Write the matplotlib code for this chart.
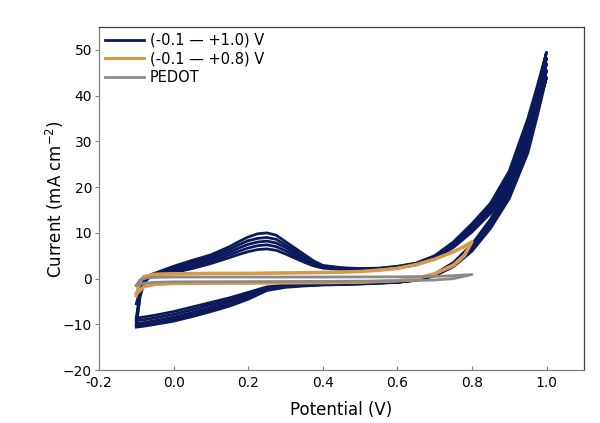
import numpy as np
import matplotlib.pyplot as plt

# forward scan (-0.1 -> 1.0 V) and reverse scan (1.0 -> -0.1 V), five cycles
x_fwd = [-0.1, -0.09, -0.08, -0.06, -0.04, 0.0, 0.05, 0.1, 0.15, 0.175, 0.2, 0.225, 0.25,
         0.275, 0.3, 0.325, 0.35, 0.375, 0.4, 0.45, 0.5, 0.55, 0.6, 0.65, 0.7, 0.75, 0.8,
         0.85, 0.9, 0.95, 0.975, 1.0]
x_rev = [1.0, 0.975, 0.95, 0.9, 0.85, 0.8, 0.75, 0.7, 0.65, 0.6, 0.5, 0.4, 0.35, 0.3,
         0.25, 0.2, 0.15, 0.1, 0.05, 0.0, -0.05, -0.08, -0.1]

fwd_cycles = [
    [-5.5, -2.5, -0.6, 0.5, 0.9, 1.3, 2.2, 3.3, 4.6, 5.3, 5.9, 6.35, 6.5, 6.2, 5.4, 4.5, 3.6, 2.8, 2.3,
     2.0, 1.9, 2.0, 2.3, 3.0, 4.3, 6.8, 10.2, 14.3, 20.5, 30.5, 37.0, 44.0],
    [-8.6, -3.0, -0.7, 0.6, 1.0, 1.6, 2.6, 3.8, 5.2, 6.0, 6.7, 7.2, 7.4, 7.0, 6.1, 5.0, 4.0, 3.1, 2.5,
     2.1, 2.0, 2.1, 2.4, 3.1, 4.5, 7.1, 10.6, 14.8, 21.2, 31.6, 38.3, 45.5],
    [-9.2, -3.3, -0.8, 0.7, 1.1, 2.0, 3.1, 4.3, 5.8, 6.7, 7.5, 8.0, 8.2, 7.8, 6.8, 5.6, 4.4, 3.4, 2.6,
     2.2, 2.1, 2.2, 2.5, 3.2, 4.7, 7.4, 11.1, 15.4, 22.0, 32.8, 39.6, 47.0],
    [-9.9, -3.6, -0.9, 0.8, 1.3, 2.4, 3.6, 4.8, 6.4, 7.4, 8.3, 8.8, 9.0, 8.6, 7.4, 6.1, 4.8, 3.6, 2.7,
     2.3, 2.1, 2.2, 2.6, 3.3, 4.9, 7.7, 11.5, 15.9, 22.7, 33.9, 40.8, 48.2],
    [-10.3, -4.0, -1.0, 0.9, 1.5, 2.7, 4.0, 5.2, 7.0, 8.1, 9.1, 9.8, 10.0, 9.5, 8.1, 6.7, 5.3, 3.9, 2.9,
     2.4, 2.2, 2.3, 2.7, 3.4, 5.0, 8.0, 12.0, 16.5, 23.5, 35.0, 42.0, 49.5],
]
rev_cycles = [
    [44.0, 35.5, 27.5, 17.5, 11.0, 6.0, 2.6, 0.6, -0.4, -0.8, -1.0, -1.1, -1.2, -1.4, -1.8, -3.0, -4.2, -5.2, -6.2, -7.2, -8.0, -8.4, -8.6],
    [45.5, 36.9, 28.7, 18.2, 11.5, 6.4, 2.8, 0.7, -0.3, -0.8, -1.0, -1.2, -1.3, -1.5, -2.0, -3.4, -4.7, -5.7, -6.8, -7.8, -8.6, -9.0, -9.2],
    [47.0, 38.2, 29.8, 19.0, 12.0, 6.8, 3.1, 0.8, -0.3, -0.8, -1.1, -1.3, -1.4, -1.6, -2.2, -3.8, -5.1, -6.3, -7.4, -8.4, -9.2, -9.6, -9.9],
    [48.2, 39.4, 30.9, 19.8, 12.5, 7.1, 3.3, 0.9, -0.2, -0.8, -1.1, -1.3, -1.5, -1.7, -2.4, -4.1, -5.6, -6.8, -7.9, -8.9, -9.7, -10.1, -10.3],
    [49.5, 40.7, 32.0, 20.7, 13.0, 7.5, 3.5, 1.0, -0.2, -0.8, -1.2, -1.4, -1.6, -1.9, -2.6, -4.5, -6.0, -7.2, -8.3, -9.3, -10.0, -10.4, -10.6],
]

# (-0.1 - +0.8) V window, two near-identical cycles
x_or_fwd = [-0.1, -0.09, -0.08, -0.05, 0.0, 0.1, 0.2, 0.3, 0.4, 0.5, 0.55, 0.6, 0.65, 0.7, 0.75, 0.78, 0.8]
x_or_rev = [0.8, 0.78, 0.75, 0.7, 0.65, 0.6, 0.5, 0.4, 0.2, 0.0, -0.05, -0.08, -0.1]
or_fwd_cycles = [
    [-3.8, -0.6, 0.4, 0.9, 1.0, 1.1, 1.1, 1.2, 1.3, 1.5, 1.8, 2.2, 3.0, 4.2, 5.8, 7.0, 8.0],
    [-3.4, -0.4, 0.5, 1.0, 1.1, 1.2, 1.2, 1.3, 1.4, 1.6, 1.9, 2.3, 3.1, 4.3, 5.9, 7.1, 8.1],
]
or_rev_cycles = [
    [8.0, 5.0, 2.8, 1.0, 0.0, -0.5, -0.8, -0.9, -1.0, -1.1, -1.3, -1.8, -3.4],
    [8.1, 5.2, 3.0, 1.1, 0.1, -0.4, -0.7, -0.8, -0.9, -1.0, -1.2, -1.7, -3.4],
]

# PEDOT
x_pe_fwd = [-0.1, -0.09, -0.07, -0.04, 0.0, 0.2, 0.4, 0.6, 0.7, 0.75, 0.8]
y_pe_fwd = [-1.5, -0.3, 0.2, 0.3, 0.35, 0.35, 0.35, 0.4, 0.5, 0.65, 0.9]
x_pe_rev = [0.8, 0.75, 0.7, 0.6, 0.4, 0.2, 0.0, -0.05, -0.08, -0.1]
y_pe_rev = [0.9, 0.0, -0.3, -0.5, -0.6, -0.65, -0.7, -0.8, -1.0, -1.5]

labels = ['(-0.1 \u2014 +1.0) V', '(-0.1 \u2014 +0.8) V', 'PEDOT']
colors = ['#0c1a5b', '#d9994d', '#8a8a8a']

fig = plt.figure(figsize=(6, 4.23), dpi=100)
ax = fig.add_axes([0.165, 0.125, 0.808, 0.811])

for i in range(len(fwd_cycles)):
    xs = x_fwd + x_rev[1:]
    ys = fwd_cycles[i] + rev_cycles[i][1:]
    ax.plot(xs, ys, color=colors[0], lw=2.0, solid_joinstyle='round',
            label=labels[0] if i == 0 else None)

for i in range(len(or_fwd_cycles)):
    xs = x_or_fwd + x_or_rev[1:]
    ys = or_fwd_cycles[i] + or_rev_cycles[i][1:]
    ax.plot(xs, ys, color=colors[1], lw=2.2, solid_joinstyle='round',
            label=labels[1] if i == 0 else None)

ax.plot(x_pe_fwd + x_pe_rev[1:], y_pe_fwd + y_pe_rev[1:], color=colors[2], lw=2.0,
        solid_joinstyle='round', label=labels[2])

ax.set_xlim(-0.2, 1.1)
ax.set_ylim(-20, 55)
ax.set_xticks(np.arange(-0.2, 1.01, 0.2))
ax.set_xticklabels(['-0.2', '0.0', '0.2', '0.4', '0.6', '0.8', '1.0'])
ax.set_yticks(np.arange(-20, 51, 10))

for s in ['left', 'bottom']:
    ax.spines[s].set_color('#808080')
for s in ['top', 'right']:
    ax.spines[s].set_color('#404040')
for s in ax.spines.values():
    s.set_linewidth(0.9)

ax.tick_params(axis='y', direction='out', length=3, color='#808080', labelsize=10, pad=2)
ax.tick_params(axis='x', direction='in', length=3, color='#808080', labelsize=10, pad=4)

ax.set_xlabel('Potential (V)', fontsize=12, labelpad=8)
ax.set_ylabel('Current (mA cm$^{-2}$)', fontsize=12, labelpad=-2)

ax.legend(loc='upper left', frameon=False, fontsize=10.5, handlelength=2.7,
          handletextpad=0.4, labelspacing=0.25, borderaxespad=0.1, borderpad=0.3)

fig.savefig('out.png', dpi=100)
